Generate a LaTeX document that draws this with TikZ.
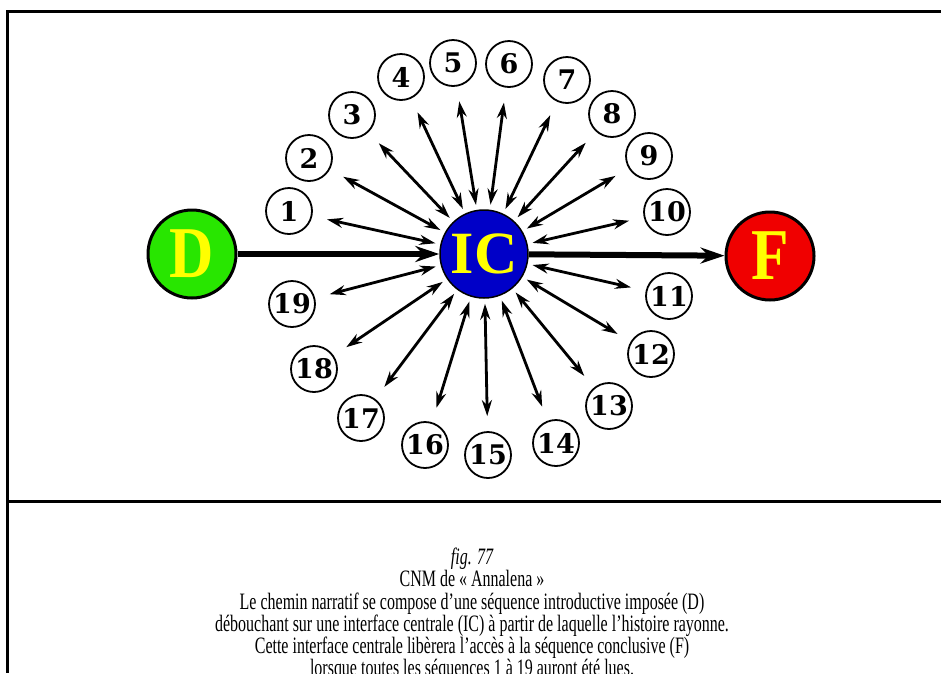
\documentclass[tikz,border=0pt]{standalone}
\usepackage{fontspec}
\setmainfont{Liberation Serif}
\newfontfamily\capfont[FakeStretch=0.68]{Liberation Serif}
\newfontfamily\letterfont[FakeStretch=0.84]{Liberation Serif}
\newfontfamily\numfont{DejaVu Serif}
\usetikzlibrary{arrows.meta,positioning}
\definecolor{dgreen}{RGB}{40,230,0}
\definecolor{icblue}{RGB}{0,0,200}
\definecolor{fred}{RGB}{240,0,0}
\definecolor{lyellow}{RGB}{255,255,0}
\tikzset{
  seqnum/.style={circle, draw, line width=1.8pt, minimum size=46pt, inner sep=0pt,
    font=\numfont\bfseries\fontsize{27}{27}\selectfont},
  bigstop/.style={circle, draw, line width=3pt, minimum size=88pt, inner sep=0pt,
    text=lyellow, font=\letterfont\bfseries\fontsize{73}{73}\selectfont},
  spoke/.style={{Stealth[length=16pt,width=10pt]}-{Stealth[length=16pt,width=10pt]},
    line width=2.8pt, shorten <=5pt, shorten >=15pt},
  mainpath/.style={-{Stealth[length=24pt,width=16pt]}, line width=6pt},
  captxt/.style={font=\capfont\fontsize{23.5}{22}\selectfont, align=center, inner sep=0pt}
}
\begin{document}
\begin{tikzpicture}[x=1pt,y=-1pt]
  \clip (0,0) rectangle (941,673);
  % Frame
  \draw[line width=3pt] (941,11) -- (7,11) -- (7,673);
  \draw[line width=3pt] (7,501) -- (941,501);
  % Start, interface, end
  \node[bigstop, fill=dgreen] (D) at (192,254) {D};
  \node[bigstop, fill=icblue, line width=1.5pt, font=\bfseries\fontsize{60}{60}\selectfont] (IC) at (484,254) {IC};
  \node[bigstop, fill=fred] (F) at (770,256) {F};
  \draw[mainpath] (D) -- (IC);
  \draw[mainpath] (IC) -- (F);
  % Upper sequences
  \node[seqnum] (s1) at (289,211) {1};
  \node[seqnum] (s2) at (309,158) {2};
  \node[seqnum] (s3) at (352,115) {3};
  \node[seqnum] (s4) at (401,77) {4};
  \node[seqnum] (s5) at (453,63) {5};
  \node[seqnum] (s6) at (509,64) {6};
  \node[seqnum] (s7) at (567,80) {7};
  \node[seqnum] (s8) at (612,114) {8};
  \node[seqnum] (s9) at (649,156) {9};
  \node[seqnum] (s10) at (667,212) {10};
  % Lower sequences
  \node[seqnum] (s11) at (669,296) {11};
  \node[seqnum] (s12) at (651,354) {12};
  \node[seqnum] (s13) at (609,406) {13};
  \node[seqnum] (s14) at (556,443) {14};
  \node[seqnum] (s15) at (488,455) {15};
  \node[seqnum] (s16) at (425,445) {16};
  \node[seqnum] (s17) at (361,418) {17};
  \node[seqnum] (s18) at (314,369) {18};
  \node[seqnum] (s19) at (292,304) {19};
  % Spokes
  \draw[spoke] (IC) -- (s1);
  \draw[spoke] (IC) -- (s2);
  \draw[spoke] (IC) -- (s3);
  \draw[spoke] (IC) -- (s4);
  \draw[spoke] (IC) -- (s5);
  \draw[spoke] (IC) -- (s6);
  \draw[spoke] (IC) -- (s7);
  \draw[spoke] (IC) -- (s8);
  \draw[spoke] (IC) -- (s9);
  \draw[spoke] (IC) -- (s10);
  \draw[spoke] (IC) -- (s11);
  \draw[spoke] (IC) -- (s12);
  \draw[spoke] (IC) -- (s13);
  \draw[spoke] (IC) -- (s14);
  \draw[spoke] (IC) -- (s15);
  \draw[spoke] (IC) -- (s16);
  \draw[spoke] (IC) -- (s17);
  \draw[spoke] (IC) -- (s18);
  \draw[spoke] (IC) -- (s19);
  % Caption
  \node[captxt, anchor=base, font=\capfont\itshape\fontsize{23.5}{22}\selectfont] (fig) at (472,564) {fig. 77};
  \node[captxt, anchor=base] (title) at (472,586) {CNM de «~Annalena~»};
  \node[captxt, anchor=base] (text) at (472,609) {Le chemin narratif se compose d’une séquence introductive imposée (D)};
  \node[captxt, anchor=base] (text2) at (472,631) {débouchant sur une interface centrale (IC) à partir de laquelle l’histoire rayonne.};
  \node[captxt, anchor=base] (text3) at (472,653) {Cette interface centrale libèrera l’accès à la séquence conclusive (F)};
  \node[captxt, anchor=base] (text4) at (472,675) {lorsque toutes les séquences 1 à 19 auront été lues.};
\end{tikzpicture}
\end{document}
